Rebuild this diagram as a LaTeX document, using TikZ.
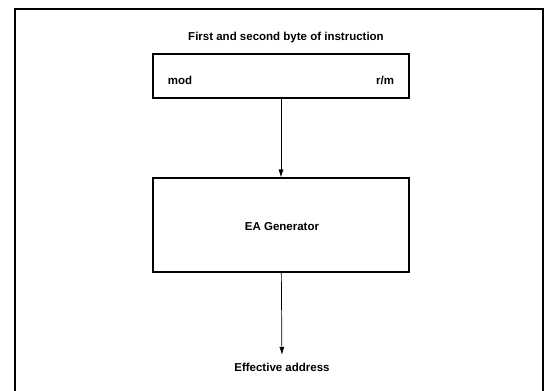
\documentclass[tikz,border=0pt]{standalone}
\usepackage{fontspec}
\setmainfont{Liberation Sans}
\usetikzlibrary{arrows.meta}

\begin{document}
\begin{tikzpicture}[x=1pt,y=-1pt,line width=1.1pt]
        \tikzset{block/.style = {shape=rectangle,draw,minimum width=256pt,inner sep=0pt},
                 label/.style = {font=\bfseries\fontsize{11.5}{13}\selectfont},
                 flow/.style = {line width=0.7pt,-{Latex[length=8pt,width=5pt]}}}
        \useasboundingbox (0,0) rectangle (547,391);
        % frame
        \draw (15,395) -- (15,9) -- (543,9) -- (543,395);
        % blocks
        \node[label] (title) at (286,38) {First and second byte of instruction};
        \node[block,minimum height=44pt] (byte) at (281,76) {};
        \node[label,anchor=west] (mod) at (164,80) {mod};
        \node[label,anchor=east] (rm) at (398,80) {r/m};
        \node[block,minimum height=94pt] (ea) at (281,225) {};
        \node[label] (gen) at (282,227) {EA Generator};
        \node[label] (addr) at (282,367) {Effective address};
        % arrows
        \draw[flow] (byte) -- (ea);
        \draw[flow,shorten >=4pt] (ea) -- (addr);
        \end{tikzpicture}
\end{document}
